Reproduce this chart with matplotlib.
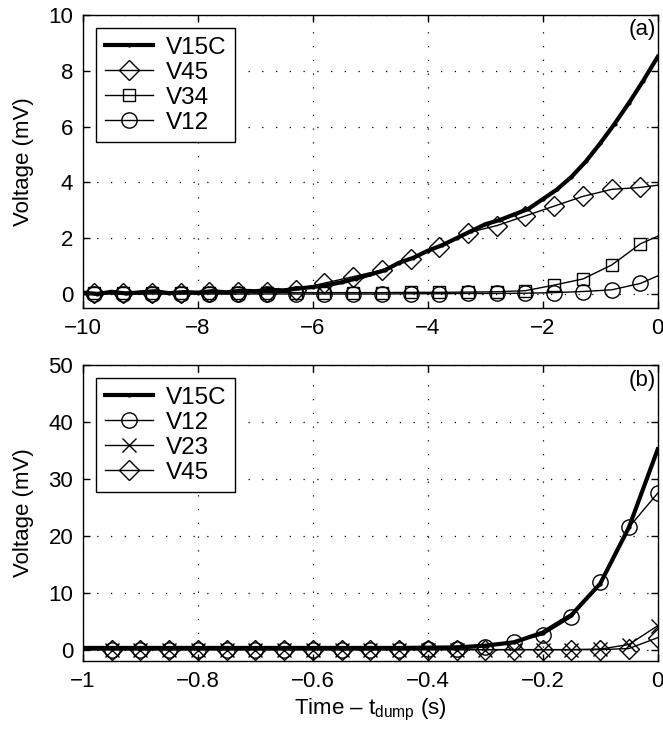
#Two stacked panels: quench voltages before the dump, long and short windows.
import numpy as np
import matplotlib
matplotlib.use('Agg')
import matplotlib.pyplot as plt

plt.rcParams['font.family'] = ['Liberation Sans', 'DejaVu Sans']
plt.rcParams['mathtext.fontset'] = 'custom'
plt.rcParams['mathtext.rm'] = 'Liberation Sans'
plt.rcParams['mathtext.it'] = 'Liberation Sans'

#Panel (a) data, time in seconds before dump, voltage in mV.
t_a15 = np.arange(-10.0, 0.001, 0.25)
v15c_a = [0.05, 0.0, 0.08, 0.02, 0.06, 0.10, 0.03, 0.07, 0.05, 0.10,
          0.06, 0.12, 0.10, 0.15, 0.13, 0.20, 0.25, 0.32, 0.42, 0.55,
          0.70, 0.85, 1.12, 1.30, 1.55, 1.75, 2.00, 2.25, 2.50, 2.65,
          2.85, 3.05, 3.40, 3.75, 4.20, 4.75, 5.40, 6.10, 6.85, 7.65, 8.50]

#Marker samples at -9.8, -9.3, ... -0.3 plus the end points.
t_a = [-10.0] + [round(-9.8 + 0.5 * k, 2) for k in range(20)] + [0.0]
v45_a = [0.05, 0.05, 0.05, 0.05, 0.05, 0.06, 0.07, 0.08, 0.15, 0.39, 0.62,
         0.86, 1.25, 1.68, 2.20, 2.45, 2.80, 3.15, 3.50, 3.75, 3.82, 3.90]
v34_a = [0.05, 0.05, 0.05, 0.05, 0.05, 0.05, 0.05, 0.05, 0.05, 0.05, 0.05,
         0.05, 0.06, 0.06, 0.07, 0.08, 0.12, 0.32, 0.54, 1.04, 1.80, 2.07]
v12_a = [0.0, 0.0, 0.0, 0.0, 0.0, 0.0, 0.0, 0.0, 0.0, 0.0, 0.0,
         0.0, 0.01, 0.01, 0.02, 0.02, 0.03, 0.05, 0.09, 0.15, 0.38, 0.65]

#Panel (b) data, markers every 0.05 s.
t_b = [round(-1.0 + 0.05 * k, 2) for k in range(21)]
v15c_b = [0.3, 0.3, 0.3, 0.3, 0.3, 0.3, 0.3, 0.3, 0.3, 0.3, 0.3,
          0.3, 0.35, 0.4, 0.7, 1.3, 3.0, 6.1, 11.6, 21.5, 35.2]
v12_b = [0.0, 0.0, 0.0, 0.0, 0.0, 0.0, 0.0, 0.0, 0.0, 0.0, 0.0,
         0.0, 0.05, 0.1, 0.5, 1.4, 2.6, 5.7, 11.8, 21.5, 27.5]
v23_b = [0.0, 0.0, 0.0, 0.0, 0.0, 0.0, 0.0, 0.0, 0.0, 0.0, 0.0,
         0.0, 0.0, 0.0, 0.0, 0.0, 0.0, 0.0, 0.1, 0.9, 4.2]
v45_b = [0.0, 0.0, 0.0, 0.0, 0.0, 0.0, 0.0, 0.0, 0.0, 0.0, 0.0,
         0.0, 0.0, 0.0, 0.0, 0.0, 0.0, 0.0, 0.0, 0.2, 2.1]

xticks_a = [-10, -8, -6, -4, -2, 0]
xlabels_a = ['\u221210', '\u22128', '\u22126', '\u22124', '\u22122', '0']
yticks_a = [0, 2, 4, 6, 8, 10]
xticks_b = [-1, -0.8, -0.6, -0.4, -0.2, 0]
xlabels_b = ['\u22121', '\u22120.8', '\u22120.6', '\u22120.4', '\u22120.2', '0']
yticks_b = [0, 10, 20, 30, 40, 50]

fs = 16
fig = plt.figure(figsize=(6.63, 7.38), dpi=100)
ax1 = fig.add_axes([0.125, 0.5827, 0.867, 0.397])
ax2 = fig.add_axes([0.125, 0.1043, 0.867, 0.401])

thin = dict(color='k', linewidth=1.0, markerfacecolor='none',
            markeredgecolor='k', markeredgewidth=1.0)
thick = dict(color='k', linewidth=3.0, marker='.', markersize=4)

inner_a = list(range(1, len(t_a) - 1))
ax1.plot(t_a15, v15c_a, label='V15C', **thick)
ax1.plot(t_a, v45_a, marker='D', markersize=10, markevery=inner_a, label='V45', **thin)
ax1.plot(t_a, v34_a, marker='s', markersize=9, markevery=inner_a, label='V34', **thin)
ax1.plot(t_a, v12_a, marker='o', markersize=11, markevery=inner_a, label='V12', **thin)

inner_b = list(range(1, len(t_b)))
ax2.plot(t_b, v15c_b, label='V15C', **thick)
ax2.plot(t_b, v12_b, marker='o', markersize=11, markevery=inner_b, label='V12', **thin)
ax2.plot(t_b, v23_b, marker='x', markersize=10, markevery=inner_b, label='V23', **thin)
ax2.plot(t_b, v45_b, marker='D', markersize=10, markevery=inner_b, label='V45', **thin)

for ax, xt, xl, yt in [(ax1, xticks_a, xlabels_a, yticks_a),
                       (ax2, xticks_b, xlabels_b, yticks_b)]:
    ax.set_xticks(xt)
    ax.set_xticklabels(xl)
    ax.set_yticks(yt)
    ax.set_xlim(xt[0], xt[-1])
    ax.tick_params(direction='in', top=True, right=True, length=5,
                   width=1.0, labelsize=fs, pad=7)
    ax.grid(True, color='k', linestyle=(0, (1, 10)), linewidth=0.9)
    for s in ax.spines.values():
        s.set_linewidth(1.0)
    ax.set_ylabel('Voltage (mV)', fontsize=fs)
    ax.legend(loc='upper left', fontsize=17.5, frameon=True, fancybox=False,
              edgecolor='k', framealpha=1, handlelength=2.0,
              handletextpad=0.5, labelspacing=0.12, borderpad=0.35,
              borderaxespad=0.55).get_frame().set_linewidth(1.0)

ax1.set_ylim(-0.5, 10)
ax2.set_ylim(-2, 50)
ax1.text(0.997, 0.985, '(a)', transform=ax1.transAxes, ha='right', va='top', fontsize=fs)
ax2.text(0.997, 0.985, '(b)', transform=ax2.transAxes, ha='right', va='top', fontsize=fs)
ax2.set_xlabel('Time \u2013 t$_{\\mathrm{dump}}$ (s)', fontsize=fs, labelpad=4)
ax1.yaxis.set_label_coords(-0.085, 0.5)
ax2.yaxis.set_label_coords(-0.085, 0.5)

plt.savefig('out.png', dpi=100)
